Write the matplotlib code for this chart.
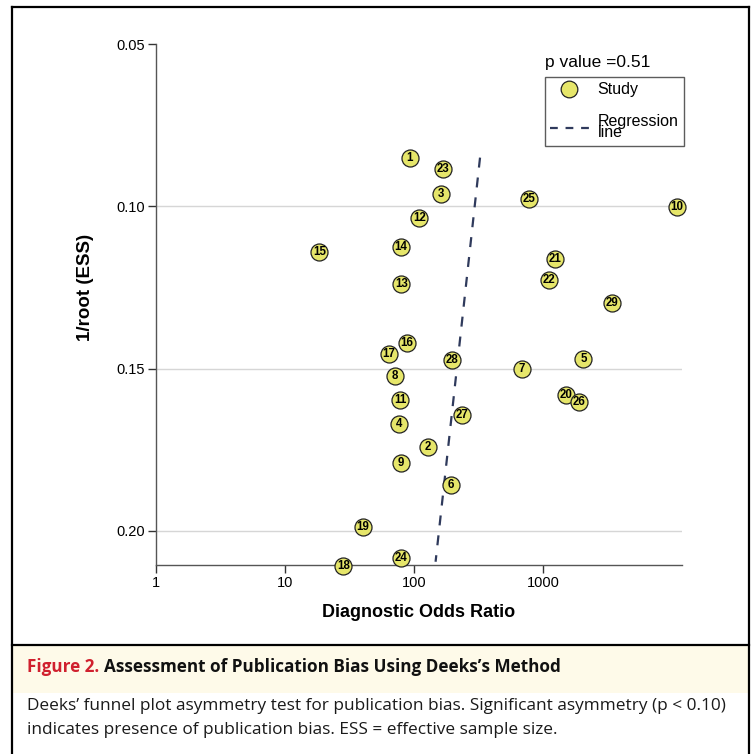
import matplotlib
matplotlib.use("Agg")
import matplotlib.pyplot as plt
from matplotlib.lines import Line2D
from matplotlib.patches import Rectangle

plt.rcParams['font.family'] = ['Liberation Sans', 'DejaVu Sans']

# ---- data ----
study_ids = [1, 23, 3, 12, 14, 15, 13, 16, 17, 28, 8, 11, 27, 4, 2, 9, 6, 19, 24, 18,
             25, 10, 21, 22, 29, 5, 7, 20, 26]
dor = [93, 169, 161, 110, 79, 18.5, 80, 88, 64, 196, 71, 78, 234, 77, 128, 79, 192, 40, 80, 28.3,
       779, 10870, 1239, 1114, 3410, 2056, 684, 1507, 1900]
inv_root_ess = [0.0852, 0.0886, 0.0962, 0.1036, 0.1124, 0.1142, 0.1240, 0.1422, 0.1456, 0.1474,
                0.1523, 0.1597, 0.1643, 0.1672, 0.1741, 0.1790, 0.1858, 0.1988, 0.2084, 0.2108,
                0.0978, 0.1001, 0.1161, 0.1227, 0.1297, 0.1471, 0.1502, 0.1581, 0.1604]
reg_y = [0.0850, 0.2095]
reg_dor = [325, 147]
x_ticks = [1, 10, 100, 1000]
x_tick_labels = ["1", "10", "100", "1000"]
y_ticks = [0.05, 0.10, 0.15, 0.20]
y_tick_labels = ["0.05", "0.10", "0.15", "0.20"]
p_value_text = "p value =0.51"

W, H = 755, 754
fig = plt.figure(figsize=(W / 100, H / 100), dpi=100)

ax = fig.add_axes([156 / W, 1 - 565 / H, (682 - 156) / W, (565 - 44) / H])
ax.set_xscale('log')
ax.set_xlim(1, 10 ** ((682 - 156) / 129.0))
ax.set_ylim(0.2105, 0.05)

for yv in [0.10, 0.15, 0.20]:
    ax.axhline(yv, color='#d6d6d6', lw=1.0, zorder=0)

ax.plot(reg_dor, reg_y, ls=(0, (4.5, 4.5)), color='#2f3a5c', lw=1.6, zorder=1)
ax.scatter(dor, inv_root_ess, s=150, facecolor='#e6e66a', edgecolor='#222222',
           linewidth=0.9, zorder=3, clip_on=False)
for sid, xv, yv in zip(study_ids, dor, inv_root_ess):
    ax.text(xv, yv, str(sid), ha='center', va='center', fontsize=8.3, fontweight='bold',
            color='black', zorder=4, clip_on=False)

for s in ['top', 'right']:
    ax.spines[s].set_visible(False)
for s in ['left', 'bottom']:
    ax.spines[s].set_color('#555555')
    ax.spines[s].set_linewidth(1.0)
ax.set_xticks(x_ticks)
ax.set_xticklabels(x_tick_labels)
ax.xaxis.set_minor_locator(matplotlib.ticker.NullLocator())
ax.set_yticks(y_ticks)
ax.set_yticklabels(y_tick_labels)
ax.tick_params(axis='both', direction='out', length=6, width=1.0, color='#333333',
               labelsize=10.5, pad=2)
ax.set_xlabel("Diagnostic Odds Ratio", fontsize=13, fontweight='bold', labelpad=10)
ax.set_ylabel("1/root (ESS)", fontsize=13.5, fontweight='bold')
ax.yaxis.set_label_coords((94 - 156) / 526, 1 - (287 - 44) / 521)

handles = [Line2D([0], [0], marker='o', ls='none', markersize=12, markerfacecolor='#e6e66a',
                  markeredgecolor='#222222', markeredgewidth=0.9),
           Line2D([0], [0], ls=(0, (3.5, 3.5)), color='#2f3a5c', lw=1.6)]
leg = ax.legend(handles, ["Study", "Regression\nline"],
                loc='upper left', bbox_to_anchor=((545 - 156) / 526, 1 - (77 - 44) / 521),
                borderaxespad=0, fontsize=11.5, frameon=True, fancybox=False,
                edgecolor='#333333', handlelength=2.4, handletextpad=0.55,
                borderpad=0.33, labelspacing=1.05)
leg.get_frame().set_linewidth(1.0)
for t in leg.get_texts():
    t.set_linespacing(0.7)
ax.text((545 - 156) / 526, 1 - (62 - 44) / 521, p_value_text, transform=ax.transAxes,
        fontsize=12.5, ha='left', va='center')

# ---- frame and caption ----
fig.add_artist(Rectangle((12 / W, 1 - 693 / H), (749 - 12) / W, 48 / H, transform=fig.transFigure,
                         facecolor='#fefae9', edgecolor='none', zorder=-1))
lw = 1.6
fig.add_artist(Line2D([11.5 / W, 11.5 / W], [0, 1 - 6.5 / H], color='black', lw=lw))
fig.add_artist(Line2D([749 / W, 749 / W], [0, 1 - 6.5 / H], color='black', lw=lw))
fig.add_artist(Line2D([11.5 / W, 749 / W], [1 - 6.5 / H, 1 - 6.5 / H], color='black', lw=lw))
fig.add_artist(Line2D([11.5 / W, 749 / W], [1 - 645 / H, 1 - 645 / H], color='black', lw=lw))

cap_font = ['Open Sans', 'DejaVu Sans']
t1 = fig.text(27 / W, 1 - 667 / H, "Figure 2.", fontsize=12.3, fontweight='bold',
              color='#d0202e', va='center', ha='left', family=cap_font)
fig.canvas.draw()
bb = t1.get_window_extent()
fig.text(bb.x1 / W + 5 / W, 1 - 667 / H, "Assessment of Publication Bias Using Deeks\u2019s Method",
         fontsize=12.3, fontweight='bold', color='#111111', va='center', ha='left', family=cap_font)
fig.text(27 / W, 1 - 706 / H,
         "Deeks\u2019 funnel plot asymmetry test for publication bias. Significant asymmetry (p < 0.10)",
         fontsize=12.4, color='#1a1a1a', va='center', ha='left', family=cap_font)
fig.text(27 / W, 1 - 730 / H, "indicates presence of publication bias. ESS = effective sample size.",
         fontsize=12.4, color='#1a1a1a', va='center', ha='left', family=cap_font)

fig.savefig("out.png", dpi=100)
